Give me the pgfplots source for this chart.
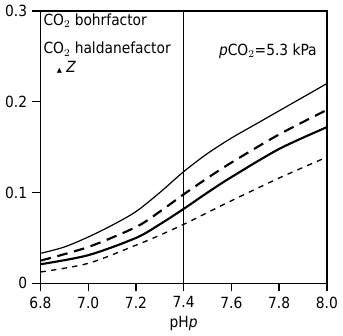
\documentclass[border=0pt]{standalone}
\usepackage{fontspec}
\setmainfont{DejaVu Sans Condensed}
\newfontfamily\symfont{DejaVu Sans}
\usepackage{pgfplots}
\pgfplotsset{compat=1.18}
\begin{document}
\fontsize{11.5}{13}\selectfont
\begin{tikzpicture}
\begin{axis}[
  scale only axis,
  width=214.5pt, height=204pt,
  xmin=6.8, xmax=8.0, ymin=0, ymax=0.3,
  axis lines=box,
  axis line style={line width=1pt},
  xtick={6.8,7.0,7.2,7.4,7.6,7.8,8.0},
  xticklabels={6.8,7.0,7.2,7.4,7.6,7.8,8.0},
  ytick={0,0.1,0.2,0.3},
  yticklabels={0,0.1,0.2,0.3},
  xtick pos=bottom, ytick pos=left,
  tick align=outside,
  major tick length=6pt,
  tick style={line width=1pt, black},
  /pgf/number format/assume math mode=true,
  tick label style={font=\fontsize{11.5}{13}\selectfont},
  xlabel={pH\textit{p}},
  xlabel style={yshift=2pt},
  clip=false,
]
% thin solid (top)
\addplot[black, line width=0.9pt, smooth, tension=0.5] coordinates {
 (6.8,0.033) (6.9,0.040) (7.0,0.051) (7.1,0.064) (7.2,0.079) (7.3,0.100) (7.4,0.123) (7.5,0.143) (7.6,0.160) (7.7,0.175) (7.8,0.190) (8.0,0.220)};
% long dashed
\addplot[black, line width=1.6pt, dash pattern=on 8pt off 5pt, smooth, tension=0.5] coordinates {
 (6.8,0.025) (7.0,0.040) (7.2,0.062) (7.3,0.079) (7.4,0.098) (7.5,0.116) (7.6,0.133) (7.8,0.164) (8.0,0.191)};
% thick solid
\addplot[black, line width=1.6pt, smooth, tension=0.5] coordinates {
 (6.8,0.021) (7.0,0.031) (7.2,0.050) (7.3,0.065) (7.4,0.082) (7.5,0.100) (7.6,0.117) (7.8,0.148) (8.0,0.172)};
% short dashed
\addplot[black, line width=1pt, dash pattern=on 4pt off 4pt, smooth, tension=0.5] coordinates {
 (6.8,0.0125) (7.0,0.022) (7.2,0.042) (7.3,0.053) (7.4,0.065) (7.5,0.078) (7.6,0.091) (7.8,0.116) (8.0,0.139)};
% vertical reference line at 7.4
\addplot[black, line width=1pt] coordinates {(7.4,0) (7.4,0.3)};
\node[anchor=north west, inner sep=1pt, align=left] at (rel axis cs:0.005,0.995)
  {CO$_2$ bohrfactor\\[8pt]CO$_2$ haldanefactor\\[1pt]\hspace{10pt}{\symfont\tiny ▲} \textit{Z}};
\node[anchor=north east, inner sep=1pt] at (rel axis cs:0.97,0.885)
  {\textit{p}CO$_2$=5.3 kPa};
\end{axis}
\end{tikzpicture}
\end{document}
